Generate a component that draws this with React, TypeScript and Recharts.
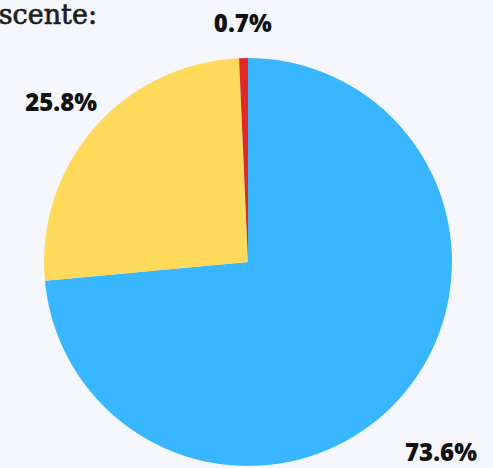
import React from "react";
import { PieChart, Pie, Cell } from "recharts";

const categories = ["A", "B", "C"];
const values = [73.6, 25.8, 0.7];
const labels = ["73.6%", "25.8%", "0.7%"];
const colors = ["#38b6ff", "#ffd95a", "#e02a2a"];

const data = categories.map((name, i) => ({ name, value: values[i], label: labels[i] }));

const RAD = Math.PI / 180;

const renderLabel = (props: any) => {
  const { cx, cy, midAngle, outerRadius, index } = props;
  const up = Math.sin(midAngle * RAD);
  const down = 1 - up;
  const r = outerRadius + 36 + 18 * down;
  const x = cx + r * Math.cos(-midAngle * RAD) - 4 * down;
  const y = cy + r * Math.sin(-midAngle * RAD) + 4.5 * down;
  return (
    <text
      x={x}
      y={y}
      textAnchor="middle"
      dominantBaseline="central"
      fill="#111"
      style={{ fontFamily: "'Open Sans', sans-serif", fontWeight: 800, fontSize: 24 }}
    >
      {labels[index]}
    </text>
  );
};

export default function App() {
  return (
    <div
      style={{
        position: "fixed",
        top: 0,
        left: 0,
        width: 493,
        height: 468,
        background: "#f5f7fd",
        overflow: "hidden",
      }}
    >
      <div
        style={{
          position: "absolute",
          right: 396,
          top: 1,
          whiteSpace: "nowrap",
          fontFamily: "'DejaVu Serif', serif",
          fontSize: 27,
          lineHeight: "27px",
          color: "#1e1e1e",
          WebkitTextStroke: "0.7px #1e1e1e",
        }}
      >
        scente:
      </div>
      <PieChart width={493} height={468} margin={{ top: 0, right: 0, bottom: 0, left: 0 }}>
        <Pie
          data={data}
          dataKey="value"
          nameKey="name"
          cx={248}
          cy={262}
          outerRadius={204}
          startAngle={90}
          endAngle={-270}
          stroke="none"
          label={renderLabel}
          labelLine={false}
          isAnimationActive={false}
        >
          {data.map((d, i) => (
            <Cell key={d.name} fill={colors[i]} />
          ))}
        </Pie>
      </PieChart>
    </div>
  );
}
